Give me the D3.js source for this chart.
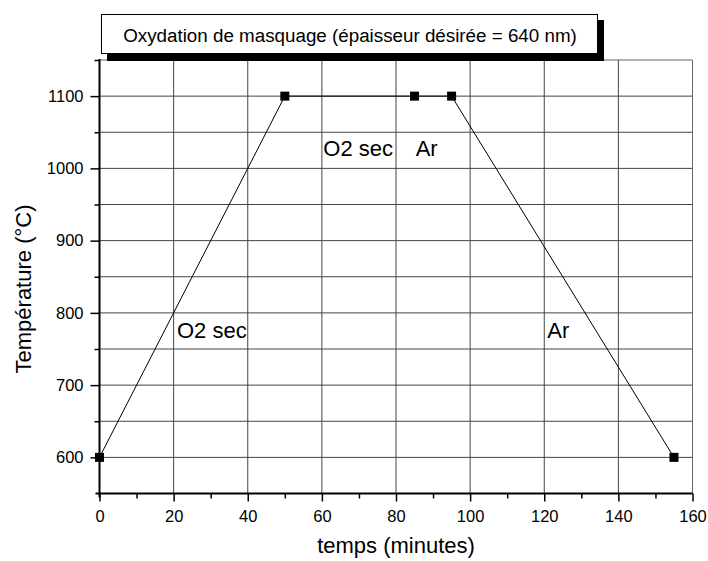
<!DOCTYPE html>
<html><head><meta charset="utf-8">
<script src="https://cdn.jsdelivr.net/npm/d3@7"></script>
<style>body{margin:0;background:#fff}svg{display:block;font-family:"Liberation Sans",Arial,sans-serif}</style>
</head><body>
<svg id="c" width="708" height="561"></svg>
<script>
const times = [0, 50, 85, 95, 155];
const temps = [600, 1100, 1100, 1100, 600];
const xTicks = [0, 20, 40, 60, 80, 100, 120, 140, 160];
const yTicks = [600, 700, 800, 900, 1000, 1100];
const labels = [
  {text: "O2 sec", x: 20.9, y: 765},
  {text: "Ar", x: 120.8, y: 765},
  {text: "O2 sec", x: 60.4, y: 1017},
  {text: "Ar", x: 85.3, y: 1017}
];
const title = "Oxydation de masquage (épaisseur désirée = 640 nm)";
const xTitle = "temps (minutes)";
const yTitle = "Température (°C)";

const svg = d3.select("#c");
const L = 99.5, R = 692.5, T = 60, B = 493.5;
const x = d3.scaleLinear().domain([0, 160]).range([L, R]);
const y = d3.scaleLinear().domain([550, 1150]).range([B, T]);

// grid
const g = svg.append("g");
g.selectAll(".vg").data(xTicks).join("line")
  .attr("x1", d => x(d)).attr("x2", d => x(d)).attr("y1", T).attr("y2", B)
  .attr("stroke", "#444").attr("stroke-width", 1);
g.selectAll(".hg").data(d3.range(600, 1150, 50)).join("line")
  .attr("x1", L).attr("x2", R).attr("y1", d => y(d)).attr("y2", d => y(d))
  .attr("stroke", "#444").attr("stroke-width", 1);
// frame top/right
svg.append("line").attr("x1", L).attr("x2", R).attr("y1", T).attr("y2", T).attr("stroke", "#666");
svg.append("line").attr("x1", R).attr("x2", R).attr("y1", T).attr("y2", B).attr("stroke", "#666");

// axes
const xAxis = d3.axisBottom(x).tickValues(xTicks).tickSize(8).tickPadding(9).tickFormat(d3.format("d"));
const xa = svg.append("g").attr("transform", `translate(0,${B})`).call(xAxis);
xa.select(".domain").remove();
svg.append("g").attr("transform", `translate(0,${B})`)
  .call(d3.axisBottom(x).tickValues(d3.range(10, 160, 20)).tickSize(5).tickFormat(""))
  .select(".domain").remove();
const ya = svg.append("g").attr("transform", `translate(${L},0)`)
  .call(d3.axisLeft(y).tickValues(yTicks).tickSize(9).tickPadding(7).tickFormat(d3.format("d")));
ya.select(".domain").remove();
svg.append("g").attr("transform", `translate(${L},0)`)
  .call(d3.axisLeft(y).tickValues(d3.range(650, 1200, 100)).tickSize(5).tickFormat(""))
  .select(".domain").remove();
svg.selectAll(".tick line").attr("stroke", "#000").attr("stroke-width", 1.5);
svg.selectAll(".tick text").attr("font-size", 16.5).attr("fill", "#000")
  .attr("font-family", '"Liberation Sans",Arial,sans-serif');
svg.append("line").attr("x1", L - 4).attr("x2", R).attr("y1", B).attr("y2", B).attr("stroke", "#000").attr("stroke-width", 2);
svg.append("line").attr("x1", L).attr("x2", L).attr("y1", T - 1).attr("y2", B + 4).attr("stroke", "#000").attr("stroke-width", 2);

// data line
const pts = times.map((t, i) => [t, temps[i]]);
svg.append("path").datum(pts)
  .attr("d", d3.line().x(d => x(d[0])).y(d => y(d[1])))
  .attr("fill", "none").attr("stroke", "#000").attr("stroke-width", 1);
svg.selectAll(".pt").data(pts).join("rect")
  .attr("x", d => x(d[0]) - 4.5).attr("y", d => y(d[1]) - 4.5)
  .attr("width", 9).attr("height", 9).attr("fill", "#000");

// annotations
svg.selectAll(".lab").data(labels).join("text")
  .attr("x", d => x(d.x)).attr("y", d => y(d.y))
  .attr("font-size", 22).attr("fill", "#000").text(d => d.text);

// axis titles
svg.append("text").attr("x", 396).attr("y", 553).attr("text-anchor", "middle")
  .attr("font-size", 22).text(xTitle);
svg.append("text").attr("transform", "translate(31,289) rotate(-90)").attr("text-anchor", "middle")
  .attr("font-size", 22).text(yTitle);

// title box
svg.append("rect").attr("x", 107).attr("y", 20).attr("width", 497).attr("height", 41).attr("fill", "#000");
svg.append("rect").attr("x", 101.5).attr("y", 14.5).attr("width", 496).attr("height", 39)
  .attr("fill", "#fff").attr("stroke", "#000").attr("stroke-width", 1);
svg.append("text").attr("x", 350).attr("y", 41.5).attr("text-anchor", "middle")
  .attr("font-size", 18.8).text(title);
</script>
</body></html>
